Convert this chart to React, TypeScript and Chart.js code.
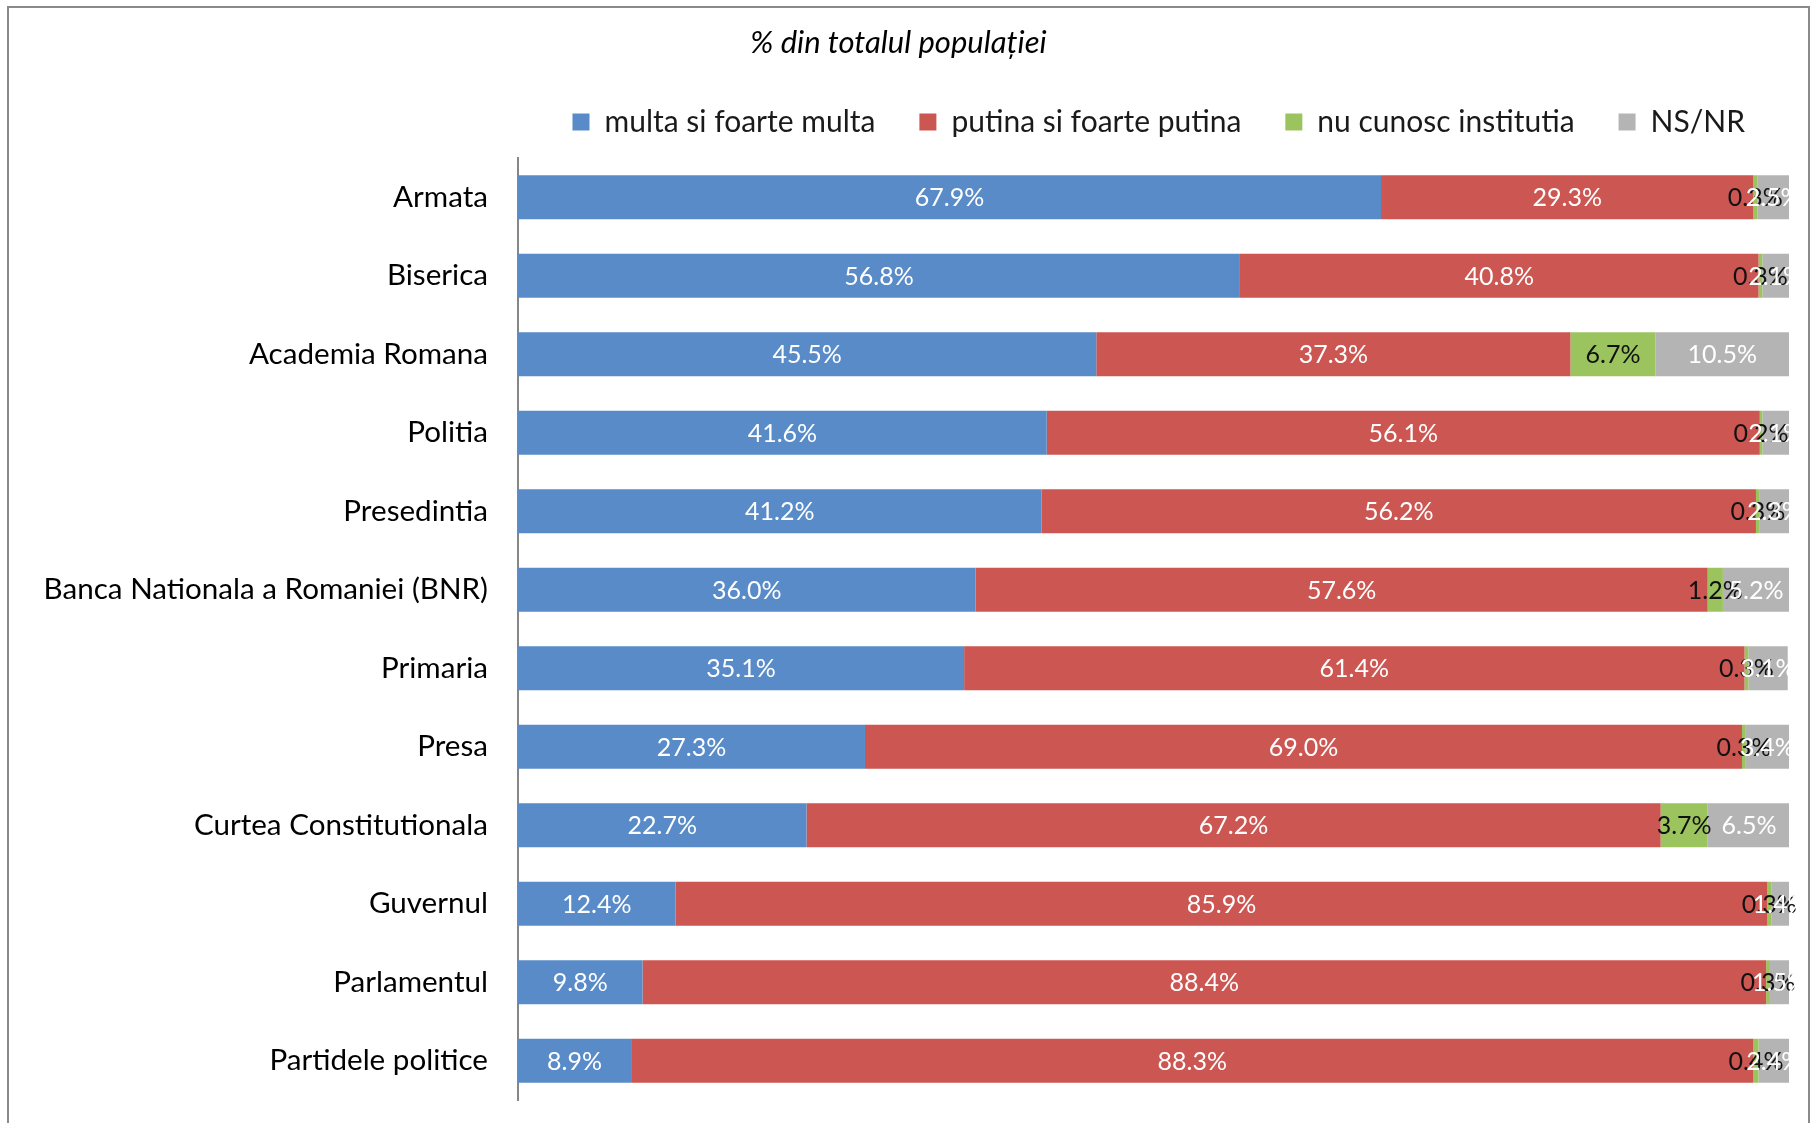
import React, { useEffect, useRef } from "react";
import { Chart, registerables } from "chart.js";

Chart.register(...registerables);

const titleText = "% din totalul populației";
const categories = [
  "Armata",
  "Biserica",
  "Academia Romana",
  "Politia",
  "Presedintia",
  "Banca Nationala a Romaniei (BNR)",
  "Primaria",
  "Presa",
  "Curtea Constitutionala",
  "Guvernul",
  "Parlamentul",
  "Partidele politice",
];
const seriesNames = ["multa si foarte multa", "putina si foarte putina", "nu cunosc institutia", "NS/NR"];
const multa = [67.9, 56.8, 45.5, 41.6, 41.2, 36.0, 35.1, 27.3, 22.7, 12.4, 9.8, 8.9];
const putina = [29.3, 40.8, 37.3, 56.1, 56.2, 57.6, 61.4, 69.0, 67.2, 85.9, 88.4, 88.3];
const nuCunosc = [0.3, 0.3, 6.7, 0.2, 0.3, 1.2, 0.3, 0.3, 3.7, 0.3, 0.3, 0.4];
const nsnr = [2.5, 2.1, 10.5, 2.1, 2.3, 5.2, 3.1, 3.4, 6.5, 1.4, 1.5, 2.4];

const colors = ["#588BC8", "#CC5652", "#9BC45E", "#B4B4B4"];
const labelColors = ["#FFFFFF", "#FFFFFF", "#111111", "#FFFFFF"];
const FONT = "Lato";

const dataLabelPlugin = {
  id: "dataLabels",
  afterDatasetsDraw(chart: any) {
    const ctx = chart.ctx;
    ctx.save();
    ctx.font = `25px ${FONT}`;
    ctx.textAlign = "center";
    ctx.textBaseline = "middle";
    chart.data.datasets.forEach((ds: any, di: number) => {
      const meta = chart.getDatasetMeta(di);
      meta.data.forEach((el: any, i: number) => {
        const v = ds.data[i];
        const cx = (el.x + el.base) / 2;
        ctx.fillStyle = labelColors[di];
        ctx.fillText(v.toFixed(1) + "%", cx, el.y + 1);
      });
    });
    ctx.restore();
  },
};

export default function App() {
  const ref = useRef<HTMLCanvasElement | null>(null);
  useEffect(() => {
    if (!ref.current) return;
    const series = [multa, putina, nuCunosc, nsnr];
    const chart = new Chart(ref.current, {
      type: "bar",
      data: {
        labels: categories,
        datasets: series.map((d, i) => ({
          label: seriesNames[i],
          data: d,
          backgroundColor: colors[i],
          borderWidth: 0,
          categoryPercentage: 1,
          barPercentage: 0.56,
        })),
      },
      options: {
        indexAxis: "y",
        responsive: false,
        animation: false,
        devicePixelRatio: 1,
        layout: { padding: { left: 8, right: 27, top: 0, bottom: 23 } },
        plugins: {
          tooltip: { enabled: false },
          title: {
            display: true,
            text: titleText,
            color: "#000000",
            font: { family: FONT, size: 31, style: "italic", weight: "normal", lineHeight: 1 },
            padding: { top: 27.5, bottom: 4.5 },
          },
          legend: {
            display: true,
            position: "top",
            align: "end",
            labels: {
              color: "#1a1a1a",
              font: { family: FONT, size: 30 },
              boxWidth: 17,
              boxHeight: 17,
              padding: 44,
            },
          },
        },
        scales: {
          x: {
            stacked: true,
            position: "top",
            min: 0,
            max: 100,
            ticks: { display: false },
            grid: { display: false, drawTicks: false },
            border: { display: false },
            afterFit(scale: any) {
              scale.height = 11;
            },
          },
          y: {
            stacked: true,
            ticks: { color: "#000000", font: { family: FONT, size: 29.6 }, padding: 30 },
            grid: { display: false, drawTicks: false },
            border: { display: true, color: "#868686", width: 2 },
            afterFit(scale: any) {
              scale.width = 510;
              scale.paddingTop = 0;
              scale.paddingBottom = 0;
            },
          },
        },
      },
      plugins: [dataLabelPlugin],
    } as any);
    return () => chart.destroy();
  }, []);

  return (
    <div
      style={{
        position: "fixed",
        left: 0,
        top: 0,
        width: 1816,
        height: 1123,
        overflow: "hidden",
        background: "#FFFFFF",
      }}
    >
      <canvas ref={ref} width={1816} height={1123} style={{ display: "block" }} />
      <div
        style={{
          position: "absolute",
          left: 7,
          top: 6,
          width: 1799,
          height: 1140,
          border: "2px solid #8A8A8A",
          pointerEvents: "none",
        }}
      />
    </div>
  );
}
